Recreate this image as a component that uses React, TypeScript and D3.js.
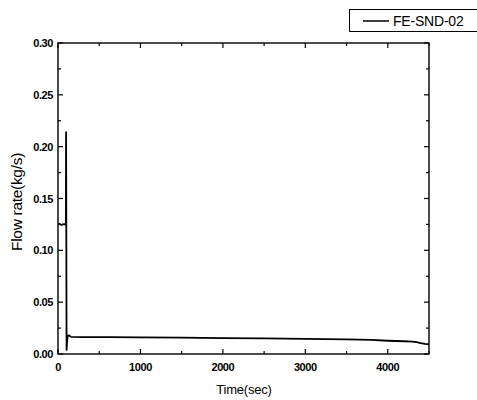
import React from "react";
import * as d3 from "d3";

const seriesName = "FE-SND-02";
const timeSec = [0, 20, 40, 60, 80, 96, 97, 98, 104, 110, 118, 130, 160, 300, 600, 1000, 1500, 2000, 2500, 3000, 3500, 3800, 4000, 4200, 4300, 4350, 4400, 4450, 4500];
const flowRate = [0.125, 0.1255, 0.1245, 0.125, 0.1252, 0.125, 0.18, 0.214, 0.004, 0.012, 0.0175, 0.018, 0.0165, 0.0163, 0.0162, 0.016, 0.0157, 0.0153, 0.015, 0.0146, 0.0141, 0.0136, 0.0128, 0.0123, 0.012, 0.0115, 0.0105, 0.0098, 0.0094];
const xTicks = [0, 1000, 2000, 3000, 4000];
const xMinor = [500, 1500, 2500, 3500, 4500];
const yTicks = [0, 0.05, 0.1, 0.15, 0.2, 0.25, 0.3];
const yMinor = [0.025, 0.075, 0.125, 0.175, 0.225, 0.275];

const W = 477, H = 400;
const L = 58, R = 429, T = 43, B = 354;
const font = "'Liberation Sans', Arial, sans-serif";

export default function App() {
  const x = d3.scaleLinear().domain([0, 4500]).range([L, R]);
  const y = d3.scaleLinear().domain([0, 0.3]).range([B, T]);
  const line = d3.line<number>().x((_, i) => x(timeSec[i])).y((d) => y(d));
  const maj = 5, mnr = 3;
  return (
    <svg width={W} height={H} style={{ position: "absolute", left: 0, top: 0 }} fontFamily={font}>
      <rect x={0} y={0} width={W} height={H} fill="#fff" />
      <path d={line(flowRate) || ""} fill="none" stroke="#000" strokeWidth={1.8} strokeLinejoin="round" />
      <rect x={L} y={T} width={R - L} height={B - T} fill="none" stroke="#000" strokeWidth={1.4} />
      {xTicks.map((t) => (
        <g key={"xt" + t}>
          <line x1={x(t)} x2={x(t)} y1={B} y2={B - maj} stroke="#000" strokeWidth={1.2} />
          <line x1={x(t)} x2={x(t)} y1={T} y2={T + maj} stroke="#000" strokeWidth={1.2} />
          <text x={x(t)} y={371} textAnchor="middle" fontSize={11} fontWeight="bold" letterSpacing={-0.4}>{t}</text>
        </g>
      ))}
      {xMinor.map((t) => (
        <g key={"xm" + t}>
          <line x1={x(t)} x2={x(t)} y1={B} y2={B - mnr} stroke="#000" strokeWidth={1.2} />
          <line x1={x(t)} x2={x(t)} y1={T} y2={T + mnr} stroke="#000" strokeWidth={1.2} />
        </g>
      ))}
      {yTicks.map((t) => (
        <g key={"yt" + t}>
          <line x1={L} x2={L + maj} y1={y(t)} y2={y(t)} stroke="#000" strokeWidth={1.2} />
          <line x1={R} x2={R - maj} y1={y(t)} y2={y(t)} stroke="#000" strokeWidth={1.2} />
          <text x={53} y={y(t) + 4} textAnchor="end" fontSize={11} fontWeight="bold" letterSpacing={-0.4}>{t.toFixed(2)}</text>
        </g>
      ))}
      {yMinor.map((t) => (
        <g key={"ym" + t}>
          <line x1={L} x2={L + mnr} y1={y(t)} y2={y(t)} stroke="#000" strokeWidth={1.2} />
          <line x1={R} x2={R - mnr} y1={y(t)} y2={y(t)} stroke="#000" strokeWidth={1.2} />
        </g>
      ))}
      <text x={244} y={394} textAnchor="middle" fontSize={13} letterSpacing={-0.2}>Time(sec)</text>
      <text transform="translate(22,202) rotate(-90)" textAnchor="middle" fontSize={15.5} letterSpacing={-0.3}>Flow rate(kg/s)</text>
      <rect x={349.5} y={9.5} width={140} height={22} fill="#fff" stroke="#000" strokeWidth={1} />
      <line x1={363} x2={389} y1={21} y2={21} stroke="#000" strokeWidth={1.5} />
      <text x={393} y={26} fontSize={14} letterSpacing={-0.2}>{seriesName}</text>
    </svg>
  );
}
